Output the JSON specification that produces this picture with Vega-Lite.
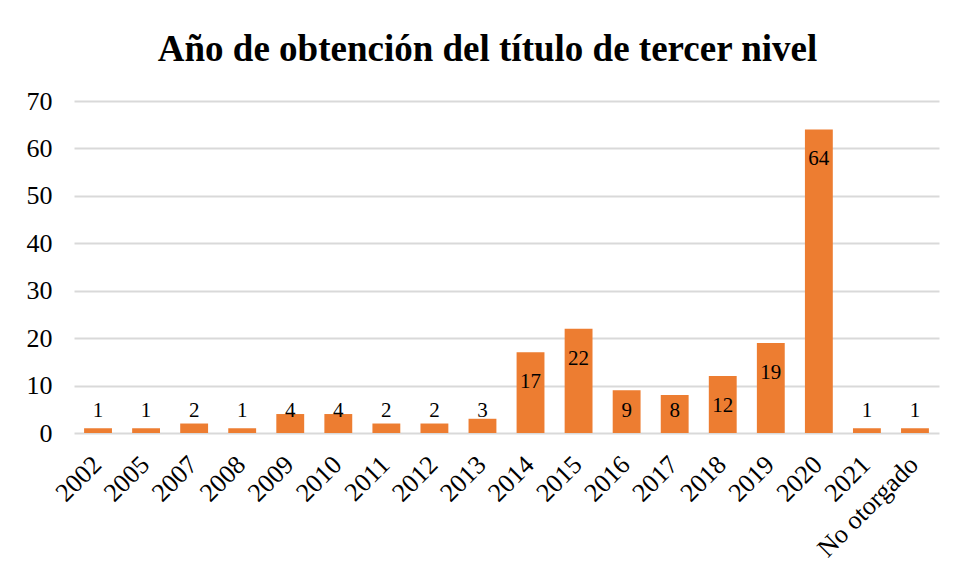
{
  "$schema": "https://vega.github.io/schema/vega-lite/v6.json",
  "width": 865,
  "height": 332,
  "autosize": {"type": "none"},
  "padding": {"left": 74, "top": 101, "right": 19, "bottom": 148},
  "background": "white",
  "title": {
    "text": "Año de obtención del título de tercer nivel",
    "font": "Liberation Serif",
    "fontSize": 37,
    "fontWeight": "bold",
    "color": "#000000",
    "anchor": "middle",
    "baseline": "bottom",
    "offset": -18,
    "dx": -19
  },
  "data": {
    "values": [
      {"anio": "2002", "n": 1},
      {"anio": "2005", "n": 1},
      {"anio": "2007", "n": 2},
      {"anio": "2008", "n": 1},
      {"anio": "2009", "n": 4},
      {"anio": "2010", "n": 4},
      {"anio": "2011", "n": 2},
      {"anio": "2012", "n": 2},
      {"anio": "2013", "n": 3},
      {"anio": "2014", "n": 17},
      {"anio": "2015", "n": 22},
      {"anio": "2016", "n": 9},
      {"anio": "2017", "n": 8},
      {"anio": "2018", "n": 12},
      {"anio": "2019", "n": 19},
      {"anio": "2020", "n": 64},
      {"anio": "2021", "n": 1},
      {"anio": "No otorgado", "n": 1}
    ]
  },
  "encoding": {
    "x": {
      "field": "anio",
      "type": "nominal",
      "sort": null,
      "scale": {"paddingInner": 0.42, "paddingOuter": 0.21},
      "axis": {
        "title": null,
        "labelAngle": -45,
        "labelFont": "Liberation Serif",
        "labelFontSize": 26,
        "labelColor": "#000000",
        "ticks": false,
        "domain": false,
        "labelPadding": 18,
        "labelOffset": -10
      }
    }
  },
  "layer": [
    {
      "mark": {"type": "bar", "color": "#ED7D31"},
      "encoding": {
        "y": {
          "field": "n",
          "type": "quantitative",
          "scale": {"domain": [0, 70]},
          "axis": {
            "title": null,
            "values": [0, 10, 20, 30, 40, 50, 60, 70],
            "labelFont": "Liberation Serif",
            "labelFontSize": 26,
            "labelColor": "#000000",
            "ticks": false,
            "domain": false,
            "labelPadding": 22,
            "grid": true,
            "gridColor": "#D9D9D9",
            "gridWidth": 2
          }
        }
      }
    },
    {
      "transform": [{"filter": "datum.n >= 10"}],
      "mark": {"type": "text", "font": "Liberation Serif", "fontSize": 21, "color": "#000000", "baseline": "middle", "dy": 30},
      "encoding": {
        "y": {"field": "n", "type": "quantitative"},
        "text": {"field": "n", "type": "quantitative"}
      }
    },
    {
      "transform": [{"filter": "datum.n < 10"}],
      "mark": {"type": "text", "font": "Liberation Serif", "fontSize": 21, "color": "#000000", "baseline": "middle"},
      "encoding": {
        "y": {"datum": 4.7},
        "text": {"field": "n", "type": "quantitative"}
      }
    }
  ],
  "config": {"view": {"stroke": null}}
}
